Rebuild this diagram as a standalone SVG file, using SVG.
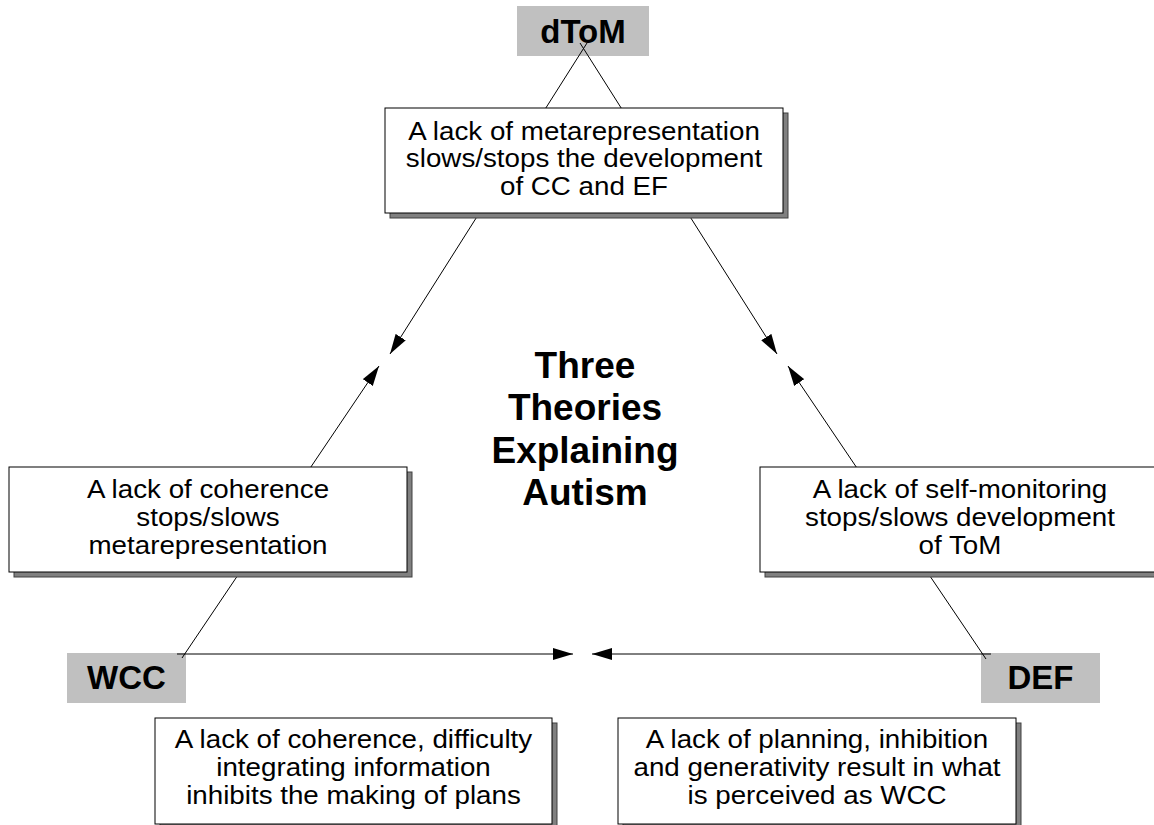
<svg xmlns="http://www.w3.org/2000/svg" width="1154" height="825" viewBox="0 0 1154 825">
<style>
.lbl{fill:#c0c0c0;stroke:none}
.lbltxt{font-family:"Liberation Sans",Arial,sans-serif;font-weight:bold;font-size:33px;fill:#000;text-anchor:middle}
.box{fill:#fff;stroke:#000;stroke-width:1}
.shadow{fill:#808080;stroke:#404040;stroke-width:1}
.txt{font-family:"Liberation Sans",Arial,sans-serif;font-size:25px;fill:#000;text-anchor:middle}
.title{font-family:"Liberation Sans",Arial,sans-serif;font-weight:bold;font-size:37px;fill:#000;text-anchor:middle}
.conn{stroke:#000;stroke-width:1;fill:none}
</style>
<defs>
<marker id="arrow" markerUnits="userSpaceOnUse" markerWidth="20" markerHeight="12" refX="20" refY="6" orient="auto">
<path d="M0,0 L20,6 L0,12 z" fill="#000"/>
</marker>
</defs>
<rect width="1154" height="825" fill="#fff"/>

<g id="node-dtom">
<rect class="lbl" x="517" y="6" width="132" height="50"/>
<text class="lbltxt" x="583" y="43">dToM</text>
</g>
<g id="node-wcc">
<rect class="lbl" x="67" y="653" width="119" height="50"/>
<text class="lbltxt" x="126.5" y="689">WCC</text>
</g>
<g id="node-def">
<rect class="lbl" x="981" y="653" width="119" height="50"/>
<text class="lbltxt" x="1040.5" y="689">DEF</text>
</g>

<g id="connectors">
<line class="conn" x1="587" y1="43" x2="390" y2="354" marker-end="url(#arrow)"/>
<line class="conn" x1="580" y1="43" x2="777" y2="354" marker-end="url(#arrow)"/>
<line class="conn" x1="182" y1="658" x2="379" y2="366" marker-end="url(#arrow)"/>
<line class="conn" x1="986" y1="659" x2="788" y2="366" marker-end="url(#arrow)"/>
<line class="conn" x1="177" y1="654" x2="573" y2="654" marker-end="url(#arrow)"/>
<line class="conn" x1="991" y1="654" x2="592" y2="654" marker-end="url(#arrow)"/>
</g>

<g id="box-top">
<rect class="shadow" x="390" y="113" width="398" height="105"/>
<rect class="box" x="385" y="108" width="398" height="105"/>
<g transform="translate(584 0) scale(1.11 1)">
<text class="txt" x="0" y="140">A lack of metarepresentation</text>
<text class="txt" x="0" y="167">slows/stops the development</text>
<text class="txt" x="0" y="195">of CC and EF</text>
</g>
</g>

<g id="box-left">
<rect class="shadow" x="14" y="472" width="398" height="105"/>
<rect class="box" x="9" y="467" width="398" height="105"/>
<g transform="translate(208 0) scale(1.11 1)">
<text class="txt" x="0" y="498">A lack of coherence</text>
<text class="txt" x="0" y="526">stops/slows</text>
<text class="txt" x="0" y="554">metarepresentation</text>
</g>
</g>

<g id="box-right">
<rect class="shadow" x="765" y="472" width="400" height="105"/>
<rect class="box" x="760" y="467" width="400" height="105"/>
<g transform="translate(960 0) scale(1.11 1)">
<text class="txt" x="0" y="498">A lack of self-monitoring</text>
<text class="txt" x="0" y="526">stops/slows development</text>
<text class="txt" x="0" y="554">of ToM</text>
</g>
</g>

<g id="box-bottom-left">
<rect class="shadow" x="160" y="723" width="397" height="106"/>
<rect class="box" x="155" y="718" width="397" height="106"/>
<g transform="translate(353.5 0) scale(1.11 1)">
<text class="txt" x="0" y="748">A lack of coherence, difficulty</text>
<text class="txt" x="0" y="776">integrating information</text>
<text class="txt" x="0" y="804">inhibits the making of plans</text>
</g>
</g>

<g id="box-bottom-right">
<rect class="shadow" x="623" y="723" width="398" height="106"/>
<rect class="box" x="618" y="718" width="398" height="106"/>
<g transform="translate(817 0) scale(1.11 1)">
<text class="txt" x="0" y="748">A lack of planning, inhibition</text>
<text class="txt" x="0" y="776">and generativity result in what</text>
<text class="txt" x="0" y="804">is perceived as WCC</text>
</g>
</g>

<g id="title">
<text class="title" x="585" y="378">Three</text>
<text class="title" x="585" y="420">Theories</text>
<text class="title" x="585" y="463">Explaining</text>
<text class="title" x="585" y="505">Autism</text>
</g>
</svg>
